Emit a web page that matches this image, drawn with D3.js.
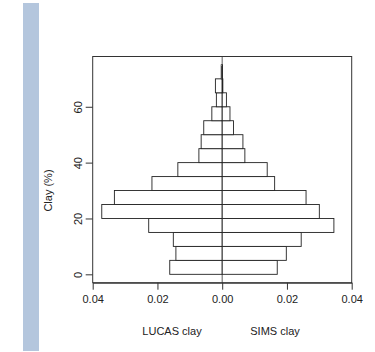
<!DOCTYPE html>
<html>
<head>
<meta charset="utf-8">
<script src="https://cdn.jsdelivr.net/npm/d3@7"></script>
<style>
  body { margin: 0; background: #fff; }
  svg { display: block; font-family: "Liberation Sans", Arial, sans-serif; }
</style>
</head>
<body>
<svg id="chart" width="375" height="352"></svg>
<script>
// clay bins (lower edge, %), each 5 wide
const binStarts = [0, 5, 10, 15, 20, 25, 30, 35, 40, 45, 50, 55, 60, 65, 70];
const lucasDensity = [0.0162, 0.0143, 0.0151, 0.0227, 0.0372, 0.0333, 0.0217, 0.0137, 0.0072, 0.0065, 0.0057, 0.0032, 0.0018, 0.0021, 0.0003];
const simsDensity  = [0.0170, 0.0198, 0.0244, 0.0345, 0.0300, 0.0259, 0.0162, 0.0139, 0.0070, 0.0064, 0.0035, 0.0024, 0.0013, 0.0002, 0.0001];
const xTicks = [-0.04, -0.02, 0, 0.02, 0.04];
const yTicks = [0, 20, 40, 60];
const binWidth = 5;

const svg = d3.select("#chart");

// blue strip on the left
svg.append("rect")
  .attr("x", 23).attr("y", 3)
  .attr("width", 16).attr("height", 348)
  .attr("fill", "#b4c6dd");

const x = d3.scaleLinear().domain([-0.04, 0.04]).range([92.7, 351.7]);
const y = d3.scaleLinear().domain([-3, 78]).range([282.7, 56.5]);

// centre line
svg.append("line")
  .attr("x1", x(0)).attr("x2", x(0))
  .attr("y1", y.range()[0]).attr("y2", y.range()[1])
  .attr("stroke", "#777").attr("stroke-width", 1.2);

const bins = binStarts.map((b, i) => ({ b, left: lucasDensity[i], right: simsDensity[i] }));

const bars = svg.append("g")
  .attr("fill", "white")
  .attr("stroke", "#222")
  .attr("stroke-width", 0.9);

bars.selectAll("rect.lucas")
  .data(bins)
  .join("rect")
  .attr("class", "lucas")
  .attr("x", d => x(-d.left))
  .attr("y", d => y(d.b + binWidth))
  .attr("width", d => x(0) - x(-d.left))
  .attr("height", d => y(d.b) - y(d.b + binWidth));

bars.selectAll("rect.sims")
  .data(bins)
  .join("rect")
  .attr("class", "sims")
  .attr("x", x(0))
  .attr("y", d => y(d.b + binWidth))
  .attr("width", d => x(d.right) - x(0))
  .attr("height", d => y(d.b) - y(d.b + binWidth));

// plot box
svg.append("rect")
  .attr("x", x.range()[0]).attr("y", y.range()[1])
  .attr("width", x.range()[1] - x.range()[0])
  .attr("height", y.range()[0] - y.range()[1])
  .attr("fill", "none")
  .attr("stroke", "#333");

// x axis
const xAxis = svg.append("g")
  .attr("transform", "translate(0," + y.range()[0] + ")")
  .call(d3.axisBottom(x).tickValues(xTicks)
    .tickFormat(d => Math.abs(d).toFixed(2))
    .tickSize(7).tickSizeOuter(0).tickPadding(6));
xAxis.select(".domain").attr("stroke", "#333");
xAxis.selectAll(".tick line").attr("stroke", "#333");
xAxis.selectAll("text").attr("font-size", 11).attr("fill", "#222")
  .attr("font-family", "Liberation Sans, Arial, sans-serif");

// y axis
const yAxis = svg.append("g")
  .attr("transform", "translate(" + x.range()[0] + ",0)")
  .call(d3.axisLeft(y).tickValues(yTicks).tickSize(7).tickSizeOuter(0));
yAxis.select(".domain").remove();
yAxis.selectAll(".tick line").attr("stroke", "#333");
yAxis.selectAll("text")
  .attr("font-size", 11).attr("fill", "#222")
  .attr("font-family", "Liberation Sans, Arial, sans-serif")
  .attr("text-anchor", "middle")
  .attr("x", 0).attr("dy", 0)
  .attr("transform", "translate(-11,0) rotate(-90)")
  .attr("y", 0);

svg.append("text")
  .attr("transform", "translate(52," + y(30) + ") rotate(-90)")
  .attr("text-anchor", "middle")
  .attr("font-size", 11).attr("fill", "#222")
  .text("Clay (%)");

svg.append("text")
  .attr("x", 172).attr("y", 335)
  .attr("text-anchor", "middle")
  .attr("font-size", 11).attr("fill", "#222")
  .text("LUCAS clay");

svg.append("text")
  .attr("x", 275).attr("y", 335)
  .attr("text-anchor", "middle")
  .attr("font-size", 11).attr("fill", "#222")
  .text("SIMS clay");
</script>
</body>
</html>
